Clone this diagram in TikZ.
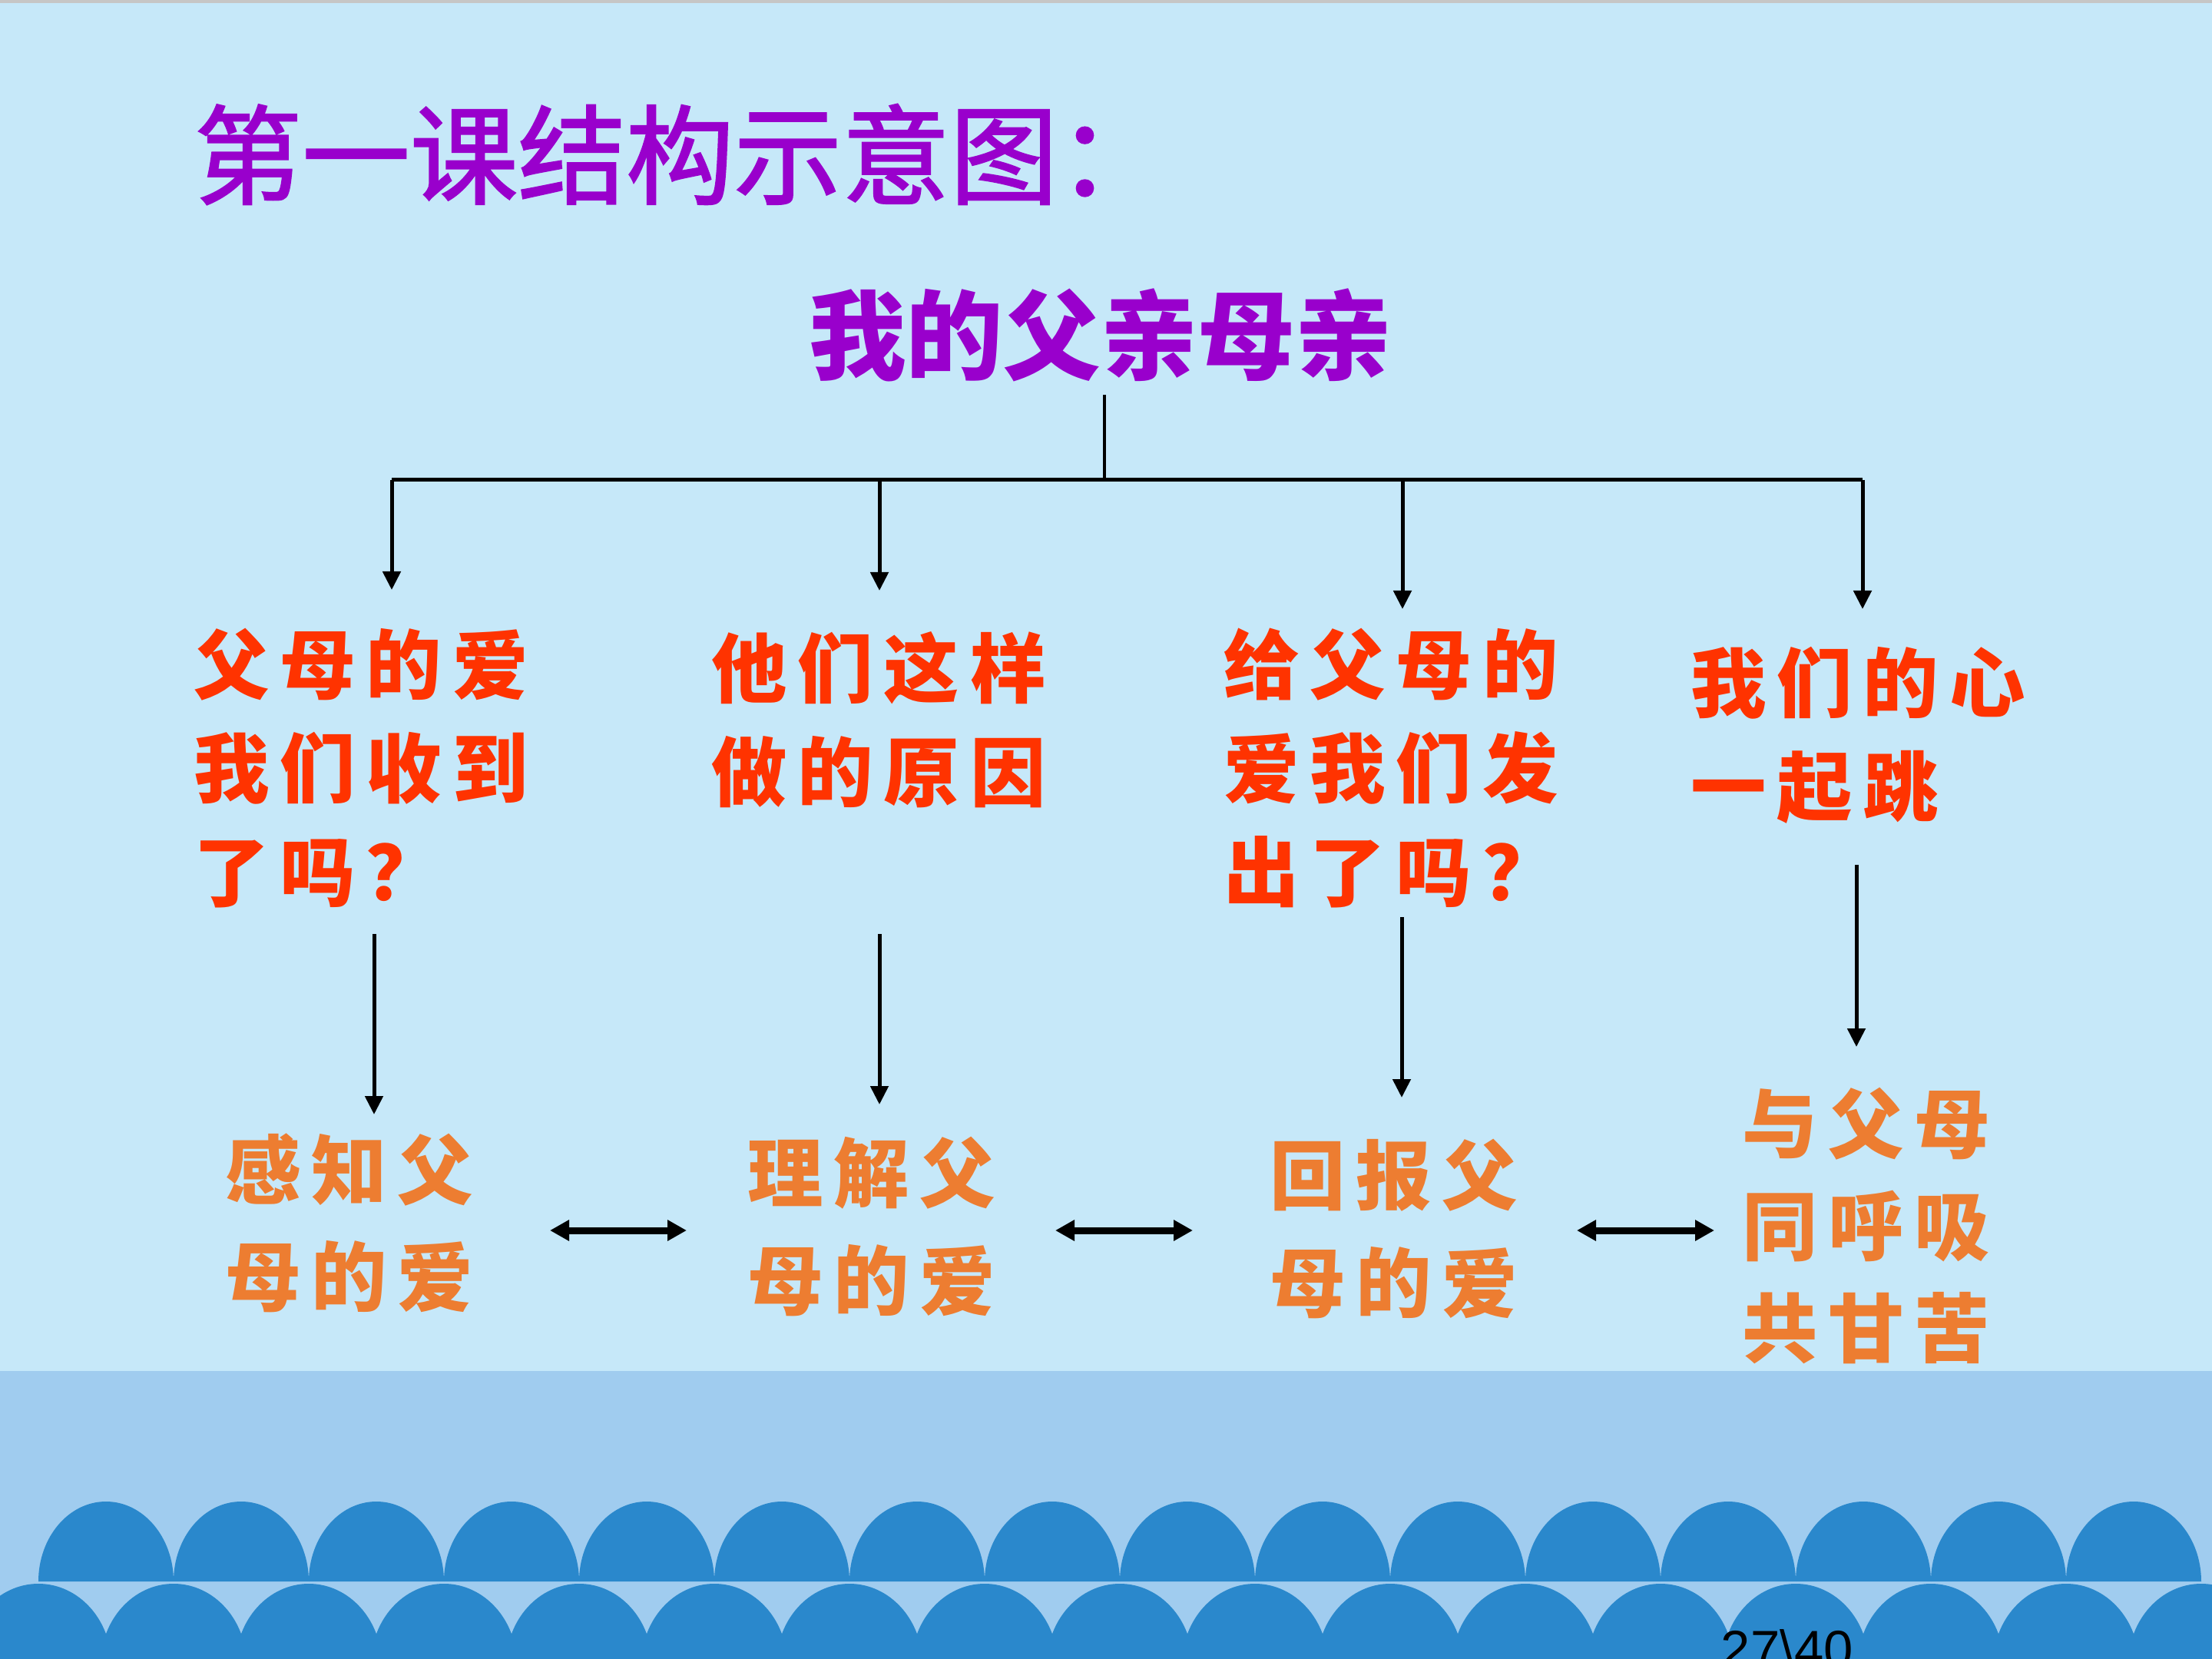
\documentclass[tikz,border=0pt]{standalone}
\usepackage{fontspec}
\usepackage{xcolor}
\usetikzlibrary{arrows.meta, positioning}
\newfontfamily\cjk{Noto Sans CJK SC}
\newfontfamily\cjktitle{Noto Sans CJK SC}[FakeBold=1.6]
\newfontfamily\cjkwide{Noto Sans CJK SC}[LetterSpace=14]
\newfontfamily\pagefont{Liberation Sans}
\definecolor{skybg}{HTML}{C6E8F9}
\definecolor{seabg}{HTML}{A0CCEF}
\definecolor{wave}{HTML}{2A88CC}
\definecolor{titlepurple}{HTML}{9900CC}
\definecolor{brushred}{HTML}{FF3300}
\definecolor{brushorange}{HTML}{ED7D31}

\begin{document}
\begin{tikzpicture}[x=1cm, y=1cm,
  arr/.style={-{Triangle[length=0.24cm, width=0.23cm]}, line width=0.05cm},
  dbl/.style={{Triangle[length=0.25cm, width=0.26cm]}-{Triangle[length=0.25cm, width=0.26cm]}, line width=0.09cm},
  redtext/.style={anchor=west, inner sep=0pt, align=left, text=brushred, font={\cjkwide\bfseries\fontsize{28}{38.4}\selectfont}},
  orangetext/.style={anchor=west, inner sep=0pt, align=left, text=brushorange, font={\cjkwide\bfseries\fontsize{28}{39.6}\selectfont}}]

\useasboundingbox (0,0) rectangle (28.8,-21.6);
\fill[skybg] (0,0) rectangle (28.8,-21.6);
\fill[gray!45] (0,0) rectangle (28.8,-0.04);
\fill[seabg] (0,-17.85) rectangle (28.8,-21.6);

% two rows of waves
\foreach \k in {0,...,15} {
  \fill[wave] (0.50+1.76*\k,-20.59) arc[start angle=180, end angle=0, x radius=0.88, y radius=1.04];
}
\foreach \k in {0,...,16} {
  \fill[wave] (-0.45+1.76*\k,-21.67) arc[start angle=180, end angle=0, x radius=0.95, y radius=1.05];
}

\node[anchor=base west, inner sep=0pt, font={\pagefont\fontsize{19.6}{22}\selectfont}] (page) at (22.40,-21.71) {27\textbackslash 40};

\node[anchor=west, inner sep=0pt, text=titlepurple, font={\cjktitle\fontsize{40}{48}\selectfont}] (title) at (2.52,-2.01) {第一课结构示意图：};
\node[text=titlepurple, inner sep=0pt, font={\cjk\bfseries\fontsize{36}{44}\selectfont}] (root) at (14.33,-4.36) {我的父亲母亲};

% tree
\coordinate (stem) at (14.38,-5.14);
\coordinate (bar) at (14.38,-6.25);
\draw[line width=0.04cm] (stem) -- (bar);
\foreach \n/\x/\y in {1/5.10/7.68, 2/11.45/7.69, 3/18.26/7.93, 4/24.25/7.93} {
  \coordinate (up\n) at (\x,-6.25);
  \coordinate (dn\n) at (\x,-\y);
  \draw[arr] (up\n) -- (dn\n);
}
\draw[line width=0.05cm] (up1) -- (up4);

\node[redtext] (r1) at (2.52,-10.00) {父母的爱\\我们收到\\了吗？};
\node[redtext] (r2) at (9.26,-9.37) {他们这样\\做的原因};
\node[redtext] (r3) at (15.93,-10.00) {给父母的\\爱我们发\\出了吗？};
\node[redtext] (r4) at (22.01,-9.57) {我们的心\\一起跳};

\foreach \n/\x/\a/\b in {1/4.87/12.16/14.51, 2/11.45/12.16/14.38, 3/18.25/11.94/14.29, 4/24.17/11.26/13.63} {
  \coordinate (s\n) at (\x,-\a);
  \coordinate (e\n) at (\x,-\b);
  \draw[arr] (s\n) -- (e\n);
}

\node[orangetext] (o1) at (2.93,-15.92) {感知父\\母的爱};
\node[orangetext] (o2) at (9.73,-15.97) {理解父\\母的爱};
\node[orangetext] (o3) at (16.53,-16.00) {回报父\\母的爱};
\node[orangetext, font={\cjkwide\bfseries\fontsize{28}{37.8}\selectfont}] (o4) at (22.68,-15.96) {与父母\\同呼吸\\共甘苦};

\foreach \n/\a/\b in {1/7.16/8.94, 2/13.74/15.53, 3/20.53/22.32} {
  \coordinate (hl\n) at (\a,-16.02);
  \coordinate (hr\n) at (\b,-16.02);
  \draw[dbl] (hl\n) -- (hr\n);
}

\end{tikzpicture}
\end{document}
